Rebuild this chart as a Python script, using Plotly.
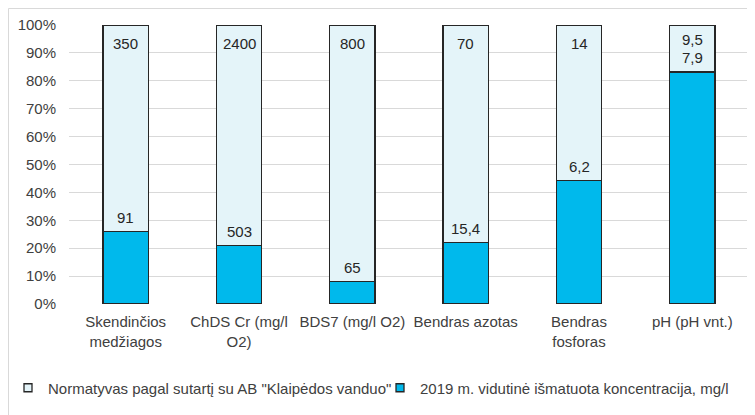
import plotly.graph_objects as go

categories = ["Skendinčios<br>medžiagos", "ChDS Cr (mg/l<br>O2)", "BDS7 (mg/l O2)",
              "Bendras azotas", "Bendras<br>fosforas", "pH (pH vnt.)"]
norm_values = [350, 2400, 800, 70, 14, 9.5]
measured_values = [91, 503, 65, 15.4, 6.2, 7.9]
y_ticks = [0, 10, 20, 30, 40, 50, 60, 70, 80, 90, 100]
y_tick_labels = ["0%", "10%", "20%", "30%", "40%", "50%", "60%", "70%", "80%", "90%", "100%"]

norm_name = 'Normatyvas pagal sutartį su AB "Klaipėdos vanduo"'
meas_name = "2019 m. vidutinė išmatuota koncentracija, mg/l"

def fmt(v):
    if float(v).is_integer():
        return str(int(v))
    return str(v).replace(".", ",")

meas_pct = [m / n * 100 for m, n in zip(measured_values, norm_values)]
rest_pct = [100 - p for p in meas_pct]

FONT = "Liberation Sans, Arial, sans-serif"
TXT = "#404040"
LBL = "#262626"
EDGE = "#262626"
BLUE = "#00B9EC"
LIGHT = "#E4F4F9"
W, H = 747, 407          # page body adds an 8px offset
L, R, T, B = 61, 6, 17, 111
PLOT_W = W - L - R
PLOT_H = H - T - B

fig = go.Figure()
fig.add_trace(go.Bar(
    x=categories, y=meas_pct, name=meas_name, showlegend=False,
    marker=dict(color=BLUE, line=dict(color=EDGE, width=1.3)),
    hoverinfo="skip",
))
fig.add_trace(go.Bar(
    x=categories, y=rest_pct, name=norm_name, showlegend=False,
    marker=dict(color=LIGHT, line=dict(color=EDGE, width=1.3)),
    hoverinfo="skip",
))
# legend entries with small square keys
fig.add_trace(go.Scatter(
    x=[None], y=[None], mode="markers", name=norm_name, legend="legend",
    marker=dict(symbol="square", size=8, color=LIGHT, line=dict(color=EDGE, width=1.3)),
))
fig.add_trace(go.Scatter(
    x=[None], y=[None], mode="markers", name=meas_name, legend="legend2",
    marker=dict(symbol="square", size=8, color=BLUE, line=dict(color=EDGE, width=1.3)),
))

annotations = []
for c, p, m, n in zip(categories, meas_pct, measured_values, norm_values):
    meas_from_top = (100 - p) / 100 * PLOT_H - 14
    norm_shift = -18 if meas_from_top - 18 > 17 else -14
    annotations.append(dict(x=c, y=100, xref="x", yref="y", text=fmt(n),
                            showarrow=False, yshift=norm_shift,
                            font=dict(family=FONT, size=15, color=LBL)))
    annotations.append(dict(x=c, y=p, xref="x", yref="y", text=fmt(m),
                            showarrow=False, yshift=14,
                            font=dict(family=FONT, size=15, color=LBL)))

leg_common = dict(orientation="h", xref="container", yref="container",
                  xanchor="left", y=1 - 380 / H, yanchor="middle",
                  font=dict(family=FONT, size=15, color=TXT),
                  itemwidth=30, bgcolor="rgba(0,0,0,0)")

fig.update_layout(
    barmode="stack",
    bargap=0.6,
    width=W, height=H,
    margin=dict(l=L, r=R, t=T, b=B, autoexpand=False),
    paper_bgcolor="white", plot_bgcolor="white",
    font=dict(family=FONT, size=15, color=TXT),
    showlegend=True,
    legend=dict(x=0.0, **leg_common),
    legend2=dict(x=0.498, **leg_common),
    annotations=annotations,
    shapes=[dict(type="rect", xref="paper", yref="paper",
                 x0=(0.5 - L) / PLOT_W, x1=(W + 10 - L) / PLOT_W,
                 y0=-(B + 20) / PLOT_H, y1=1 + (T - 0.5) / PLOT_H,
                 line=dict(color="#D9D9D9", width=1), layer="below")],
)
fig.update_yaxes(range=[0, 100], tickvals=y_ticks, ticktext=y_tick_labels,
                 showgrid=True, gridcolor="#D9D9D9", gridwidth=1,
                 zeroline=False, showline=False, ticks="",
                 ticklabelstandoff=12, automargin=False,
                 tickfont=dict(family=FONT, size=15, color=TXT))
fig.update_xaxes(showgrid=False, showline=False, ticks="",
                 ticklabelstandoff=7, automargin=False,
                 tickfont=dict(family=FONT, size=15, color=TXT))

fig.write_html("out.html")
